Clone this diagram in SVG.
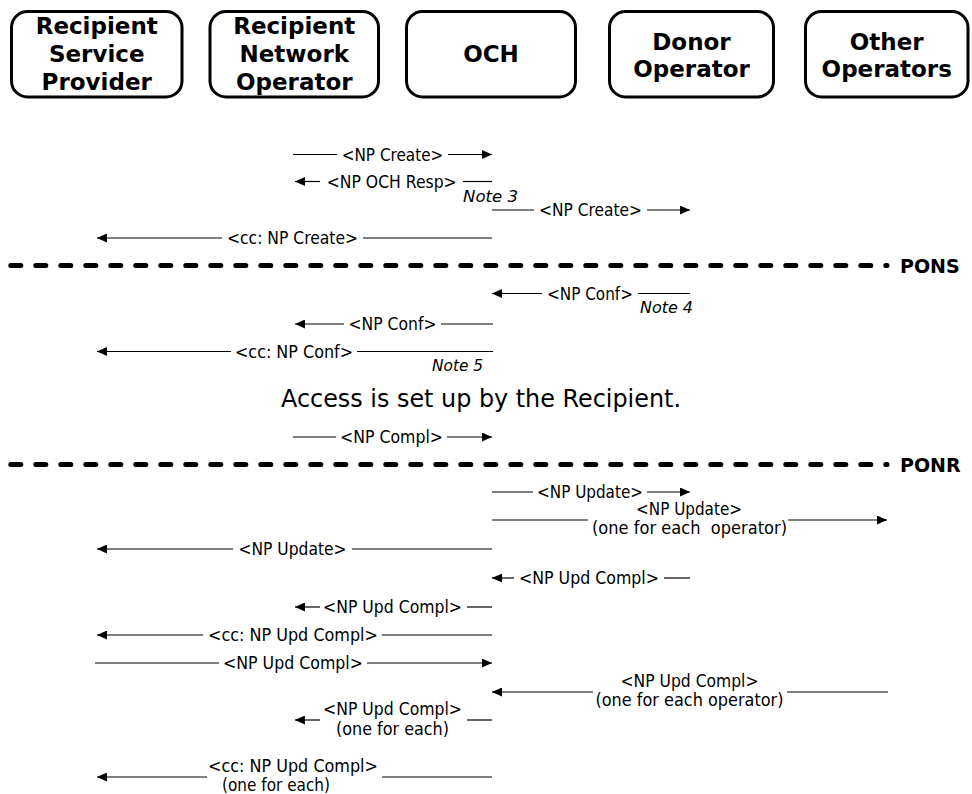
<svg xmlns="http://www.w3.org/2000/svg" width="972" height="794" viewBox="0 0 972 794">
<style>
.box{fill:#fff;stroke:#000;stroke-width:3}
.title{font-family:"DejaVu Sans",Verdana,sans-serif;font-weight:bold;font-size:23px;text-anchor:middle;fill:#000}
.lbl{font-family:"DejaVu Sans",Verdana,sans-serif;font-size:17px;text-anchor:middle;fill:#000;white-space:pre}
.note{font-family:"DejaVu Sans",Verdana,sans-serif;font-style:italic;font-size:16.5px;fill:#000}
.big{font-family:"DejaVu Sans",Verdana,sans-serif;font-size:24px;text-anchor:middle;fill:#000}
.phl{font-family:"DejaVu Sans",Verdana,sans-serif;font-weight:bold;font-size:19px;fill:#000}
.m{stroke:#000;stroke-width:1.2;fill:none}
.a{marker-end:url(#ah)}
.phase{stroke:#000;stroke-width:5;stroke-linecap:round;stroke-dasharray:10 15;fill:none}
</style>
<defs>
<marker id="ah" markerUnits="userSpaceOnUse" markerWidth="10" markerHeight="9" refX="10" refY="4.5" orient="auto" viewBox="0 0 10 9">
<path d="M0,0 L10,4.5 L0,9 Z" fill="#000"/>
</marker>
</defs>

<g id="rsp">
<rect class="box" x="11.5" y="11.5" width="170.5" height="85.5" rx="16"/>
<text class="title" x="96.75" y="33.5">Recipient</text>
<text class="title" x="96.75" y="61.5">Service</text>
<text class="title" x="96.75" y="89.5">Provider</text>
</g>
<g id="rno">
<rect class="box" x="210" y="11.5" width="168.5" height="85.5" rx="16"/>
<text class="title" x="294.25" y="33.5">Recipient</text>
<text class="title" x="294.25" y="61.5">Network</text>
<text class="title" x="294.25" y="89.5">Operator</text>
</g>
<g id="och">
<rect class="box" x="406.5" y="11.5" width="169" height="85.5" rx="16"/>
<text class="title" x="491" y="62">OCH</text>
</g>
<g id="donor">
<rect class="box" x="609.5" y="11.5" width="164" height="85.5" rx="16"/>
<text class="title" x="691.5" y="49.5">Donor</text>
<text class="title" x="691.5" y="76.5">Operator</text>
</g>
<g id="others">
<rect class="box" x="805.5" y="11.5" width="162.5" height="85.5" rx="16"/>
<text class="title" x="886.75" y="49.5">Other</text>
<text class="title" x="886.75" y="76.5">Operators</text>
</g>

<g id="phases">
<line class="phase" x1="10.8" y1="265.5" x2="887" y2="265.5"/>
<text class="phl" x="900" y="272.5">PONS</text>
<line class="phase" x1="10.8" y1="464.5" x2="887" y2="464.5"/>
<text class="phl" x="900" y="471.5">PONR</text>
</g>

<g id="connectors">
<line class="m" x1="293" y1="154.5" x2="337" y2="154.5"/>
<line class="m a" x1="448" y1="154.5" x2="492" y2="154.5"/>
<text class="lbl" x="392.5" y="160.5" textLength="101.6" lengthAdjust="spacingAndGlyphs">&lt;NP Create&gt;</text>

<line class="m a" x1="320" y1="181.5" x2="295" y2="181.5"/>
<line class="m" x1="463" y1="181.5" x2="492" y2="181.5"/>
<text class="lbl" x="391.7" y="187.5" textLength="130" lengthAdjust="spacingAndGlyphs">&lt;NP OCH Resp&gt;</text>
<text class="note" x="463" y="201.5" textLength="55" lengthAdjust="spacingAndGlyphs">Note 3</text>

<line class="m" x1="492" y1="210" x2="534" y2="210"/>
<line class="m a" x1="647" y1="210" x2="690" y2="210"/>
<text class="lbl" x="590.5" y="216" textLength="103" lengthAdjust="spacingAndGlyphs">&lt;NP Create&gt;</text>

<line class="m a" x1="222" y1="238" x2="97" y2="238"/>
<line class="m" x1="363" y1="238" x2="492" y2="238"/>
<text class="lbl" x="292.5" y="244" textLength="131" lengthAdjust="spacingAndGlyphs">&lt;cc: NP Create&gt;</text>

<line class="m a" x1="542" y1="293.5" x2="492" y2="293.5"/>
<line class="m" x1="638" y1="293.5" x2="690" y2="293.5"/>
<text class="lbl" x="590" y="299.5" textLength="86" lengthAdjust="spacingAndGlyphs">&lt;NP Conf&gt;</text>
<text class="note" x="640" y="313" textLength="53" lengthAdjust="spacingAndGlyphs">Note 4</text>

<line class="m a" x1="344" y1="324" x2="295" y2="324"/>
<line class="m" x1="441" y1="324" x2="493" y2="324"/>
<text class="lbl" x="392.5" y="330" textLength="88" lengthAdjust="spacingAndGlyphs">&lt;NP Conf&gt;</text>

<line class="m a" x1="231" y1="351.5" x2="97" y2="351.5"/>
<line class="m" x1="357" y1="351.5" x2="493" y2="351.5"/>
<text class="lbl" x="294" y="357.5" textLength="118" lengthAdjust="spacingAndGlyphs">&lt;cc: NP Conf&gt;</text>
<text class="note" x="432" y="371" textLength="51" lengthAdjust="spacingAndGlyphs">Note 5</text>

<line class="m" x1="293" y1="437" x2="336" y2="437"/>
<line class="m a" x1="447" y1="437" x2="492" y2="437"/>
<text class="lbl" x="391.5" y="443" textLength="103" lengthAdjust="spacingAndGlyphs">&lt;NP Compl&gt;</text>

<line class="m" x1="492" y1="492" x2="533" y2="492"/>
<line class="m a" x1="647" y1="492" x2="690" y2="492"/>
<text class="lbl" x="590" y="498" textLength="106" lengthAdjust="spacingAndGlyphs">&lt;NP Update&gt;</text>

<line class="m" x1="492" y1="520" x2="588" y2="520"/>
<line class="m a" x1="788" y1="520" x2="887" y2="520"/>
<text class="lbl" x="689" y="515" textLength="106" lengthAdjust="spacingAndGlyphs">&lt;NP Update&gt;</text>
<text class="lbl" x="689.5" y="533.5" textLength="195" lengthAdjust="spacingAndGlyphs">(one for each  operator)</text>

<line class="m a" x1="233" y1="549" x2="97" y2="549"/>
<line class="m" x1="352" y1="549" x2="492" y2="549"/>
<text class="lbl" x="292.5" y="555" textLength="108" lengthAdjust="spacingAndGlyphs">&lt;NP Update&gt;</text>

<line class="m a" x1="514" y1="578" x2="492" y2="578"/>
<line class="m" x1="664" y1="578" x2="690" y2="578"/>
<text class="lbl" x="589" y="584" textLength="140" lengthAdjust="spacingAndGlyphs">&lt;NP Upd Compl&gt;</text>

<line class="m a" x1="320" y1="607" x2="295" y2="607"/>
<line class="m" x1="467" y1="607" x2="492" y2="607"/>
<text class="lbl" x="392.5" y="613" textLength="139" lengthAdjust="spacingAndGlyphs">&lt;NP Upd Compl&gt;</text>

<line class="m a" x1="203" y1="635" x2="97" y2="635"/>
<line class="m" x1="382" y1="635" x2="492" y2="635"/>
<text class="lbl" x="293" y="641" textLength="170" lengthAdjust="spacingAndGlyphs">&lt;cc: NP Upd Compl&gt;</text>

<line class="m" x1="95" y1="663" x2="219" y2="663"/>
<line class="m a" x1="367" y1="663" x2="492" y2="663"/>
<text class="lbl" x="293" y="669" textLength="140" lengthAdjust="spacingAndGlyphs">&lt;NP Upd Compl&gt;</text>

<line class="m a" x1="593" y1="692" x2="492" y2="692"/>
<line class="m" x1="787" y1="692" x2="888" y2="692"/>
<text class="lbl" x="689.5" y="687" textLength="138" lengthAdjust="spacingAndGlyphs">&lt;NP Upd Compl&gt;</text>
<text class="lbl" x="689.5" y="706" textLength="188" lengthAdjust="spacingAndGlyphs">(one for each operator)</text>

<line class="m a" x1="320" y1="720" x2="295" y2="720"/>
<line class="m" x1="467" y1="720" x2="492" y2="720"/>
<text class="lbl" x="392.5" y="715" textLength="139" lengthAdjust="spacingAndGlyphs">&lt;NP Upd Compl&gt;</text>
<text class="lbl" x="392.5" y="735" textLength="113" lengthAdjust="spacingAndGlyphs">(one for each)</text>

<line class="m a" x1="207" y1="777" x2="97" y2="777"/>
<line class="m" x1="382" y1="777" x2="492" y2="777"/>
<text class="lbl" x="293" y="772" textLength="170" lengthAdjust="spacingAndGlyphs">&lt;cc: NP Upd Compl&gt;</text>
<text class="lbl" x="276" y="791" textLength="108" lengthAdjust="spacingAndGlyphs">(one for each)</text>
</g>

<text class="big" x="481" y="407" textLength="400" lengthAdjust="spacingAndGlyphs">Access is set up by the Recipient.</text>
</svg>
